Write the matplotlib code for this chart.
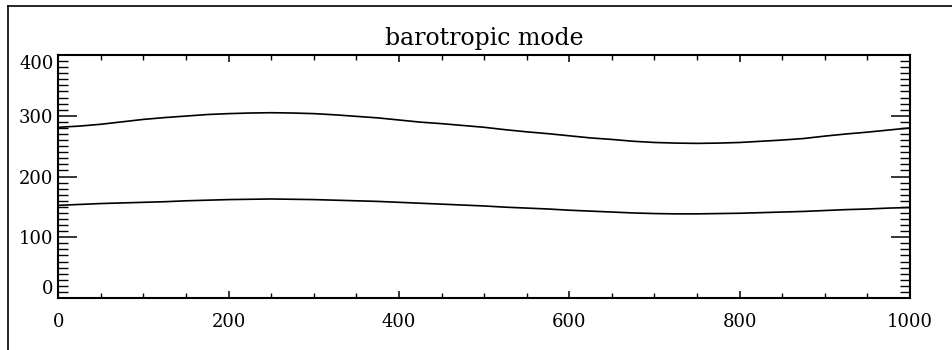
import numpy as np
import matplotlib
matplotlib.use("Agg")
import matplotlib.pyplot as plt
from matplotlib.lines import Line2D
from matplotlib.ticker import MultipleLocator

# values, every 25 units along x
x_pos = [0, 25, 50, 75, 100, 125, 150, 175, 200, 225, 250, 275, 300, 325,
         350, 375, 400, 425, 450, 475, 500, 525, 550, 575, 600, 625, 650,
         675, 700, 725, 750, 775, 800, 825, 850, 875, 900, 925, 950, 975, 1000]
upper = [281, 283, 286, 290, 294, 297, 299.5, 302, 303.5, 304.5, 305, 304.5,
         303.5, 301.5, 299, 296.5, 293, 289.5, 287, 284, 281, 277, 273.5,
         270.5, 267, 263.5, 261, 258, 256, 255, 254.5, 255, 256, 258, 260,
         262.5, 266.5, 270, 273, 276.5, 280]
lower = [152.5, 154, 155.5, 156.5, 157.5, 158.5, 160, 161, 162, 162.5, 163,
         162.5, 162, 161, 160, 159, 157.5, 156, 154.5, 153, 151.5, 149.5, 148,
         146.5, 144.5, 143, 141.5, 140, 139, 138.5, 138.5, 139, 139.5, 140.5,
         141.5, 142.5, 144, 145.5, 146.5, 148, 149]

x_ticks = [0, 200, 400, 600, 800, 1000]
y_ticks = [0, 100, 200, 300, 400]

plt.rcParams['font.family'] = ['DejaVu Serif']

fig = plt.figure(figsize=(9.52, 3.5), dpi=100)
ax = fig.add_axes([58.3 / 952, 52 / 350, 851.7 / 952, 243 / 350])

ax.plot(x_pos, upper, color="black", lw=1.2)
ax.plot(x_pos, lower, color="black", lw=1.2)

ax.set_xlim(0, 1000)
ax.set_ylim(0, 400)
ax.set_xticks(x_ticks)
ax.set_yticks(y_ticks)
ax.xaxis.set_minor_locator(MultipleLocator(50))
ax.yaxis.set_minor_locator(MultipleLocator(10))

ax.tick_params(axis="both", which="both", direction="in",
               top=True, right=True, colors="black", labelsize=13)
ax.tick_params(axis="x", which="major", length=5, width=1.1, pad=11)
ax.tick_params(axis="x", which="minor", length=3.3, width=1.0)
ax.tick_params(axis="y", which="major", length=13.5, width=1.1, pad=3.5)
ax.tick_params(axis="y", which="minor", length=7.5, width=1.0)
for s in ax.spines.values():
    s.set_linewidth(1.5)

# IDL puts the end labels inside the axis range
ylabs = ax.get_yticklabels()
ylabs[0].set_verticalalignment("bottom")
ylabs[-1].set_verticalalignment("top")

ax.set_title("barotropic mode", fontsize=17, pad=7)

# page frame around the plot
fig.add_artist(Line2D([8 / 952, 1.0], [1 - 6 / 350, 1 - 6 / 350],
                      transform=fig.transFigure, color="black", lw=1.2))
fig.add_artist(Line2D([8 / 952, 8 / 952], [0, 1 - 6 / 350],
                      transform=fig.transFigure, color="black", lw=1.2))

fig.savefig("out.png", dpi=100)
